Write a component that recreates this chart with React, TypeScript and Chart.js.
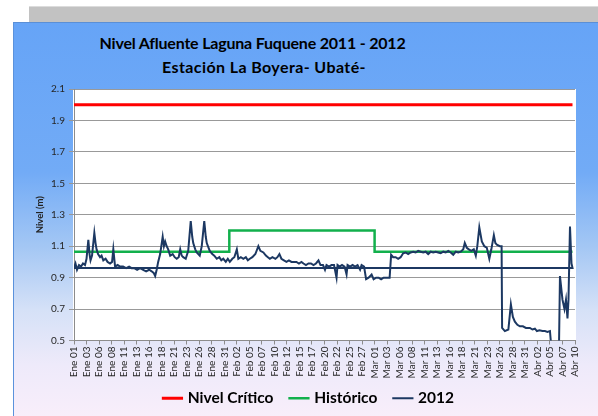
import React, { useEffect, useRef } from 'react';
import { Chart, registerables } from 'chart.js';

Chart.register(...registerables);

// X axis: days since Ene 01 (2012), major unit 2.5 days
const tickLabels = [
  'Ene 01', 'Ene 03', 'Ene 06', 'Ene 08', 'Ene 11', 'Ene 13', 'Ene 16', 'Ene 18', 'Ene 21', 'Ene 23', 'Ene 26', 'Ene 28', 'Ene 31',
  'Feb 02', 'Feb 05', 'Feb 07', 'Feb 10', 'Feb 12', 'Feb 15', 'Feb 17', 'Feb 20', 'Feb 22', 'Feb 25', 'Feb 27',
  'Mar 01', 'Mar 03', 'Mar 06', 'Mar 08', 'Mar 11', 'Mar 13', 'Mar 16', 'Mar 18', 'Mar 21', 'Mar 23', 'Mar 26', 'Mar 28', 'Mar 31',
  'Abr 02', 'Abr 05', 'Abr 07', 'Abr 10',
];
const tickStepDays = 2.5;
const axisMaxDays = 100;
const seriesEndDay = 99.5;

// Nivel Crítico
const nivelCritico = 2.0;

// Histórico (value per month, month start day)
const historicoStartDays = [0, 31, 60, 91];
const historicoValues = [1.065, 1.2, 1.065, 1.065];

// 2012 series (day, level m)
const days2012 = [
  0, 0.3, 0.6, 1.0, 1.4, 1.8, 2.2, 2.5, 2.86, 3.1, 3.3, 3.6, 4.06, 4.3, 4.5, 4.8, 5.2, 5.5, 5.85, 6.3,
  6.7, 7.2, 7.6, 7.85, 8.2, 8.7, 9.2, 9.8, 10.4, 11.0, 11.5, 12.0, 12.6, 13.2, 13.8, 14.4, 15.0, 15.5, 15.9, 16.2,
  16.5, 16.8, 17.2, 17.7, 17.95, 18.2, 18.5, 18.8, 19.2, 19.7, 20.1, 20.5, 20.9, 21.2, 21.5, 21.8, 22.3, 22.8, 23.3, 23.6,
  23.8, 24.2, 24.5, 25.1, 25.5, 26.0, 26.3, 26.5, 27.1, 27.6, 28.0, 28.5, 29.0, 29.4, 29.8, 30.3, 30.7, 31.1, 31.6, 32.0,
  32.5, 32.8, 33.3, 33.8, 34.3, 34.7, 35.1, 35.6, 36.2, 36.8, 37.2, 37.8, 38.3, 38.7, 39.1, 39.6, 40.2, 40.6, 41.0, 41.4,
  41.9, 42.4, 42.9, 43.4, 43.9, 44.4, 44.9, 45.4, 45.8, 46.3, 46.8, 47.3, 47.8, 48.3, 48.8, 49.2, 49.7, 50.1, 50.4, 50.9,
  51.4, 51.9, 52.4, 52.6, 53.0, 53.5, 54.0, 54.4, 54.6, 55.1, 55.6, 56.1, 56.6, 57.1, 57.4, 57.9, 58.3, 58.8, 59.4, 59.8,
  60.3, 60.8, 61.3, 61.8, 62.4, 63.0, 63.3, 63.7, 64.2, 64.7, 65.2, 65.7, 66.2, 66.7, 67.2, 67.7, 68.2, 68.7, 69.2, 69.7,
  70.2, 70.7, 71.2, 71.7, 72.2, 72.7, 73.2, 73.7, 74.2, 74.7, 75.2, 75.7, 76.2, 76.7, 77.2, 77.7, 78.0, 78.4, 78.8, 79.3,
  79.8, 80.2, 80.5, 80.9, 81.4, 81.9, 82.4, 82.9, 83.3, 83.8, 84.1, 84.4, 85.0, 85.35, 85.45, 86.0, 86.7, 87.2, 87.6, 88.0,
  88.5, 89.0, 89.6, 90.2, 91.0, 91.5, 92.0, 92.4, 92.9, 93.5, 94.0, 94.5, 95.0, 95.3, 96.0, 96.8, 97.0, 97.5, 97.9, 98.2,
  98.5, 98.7, 99.0, 99.3, 99.5,
];
const nivel2012 = [
  0.962, 0.99, 0.95, 0.98, 0.97, 0.99, 0.98, 1.02, 1.14, 1.05, 1.01, 1.04, 1.185, 1.12, 1.08, 1.05, 1.03, 1.04, 1.01, 1.02,
  1.0, 0.99, 1.0, 1.08, 0.97, 0.98, 0.97, 0.97, 0.96, 0.97, 0.96, 0.96, 0.95, 0.96, 0.95, 0.94, 0.95, 0.94, 0.93, 0.91,
  0.95, 1.0, 1.05, 1.16, 1.1, 1.13, 1.1, 1.08, 1.04, 1.05, 1.03, 1.02, 1.03, 1.08, 1.04, 1.03, 1.02, 1.07, 1.26, 1.16,
  1.12, 1.08, 1.06, 1.04, 1.1, 1.26, 1.16, 1.12, 1.07, 1.05, 1.04, 1.02, 1.03, 1.01, 1.02, 1.0, 1.02, 1.0, 1.02, 1.03,
  1.08, 1.02, 1.03, 1.02, 1.03, 1.01, 1.02, 1.03, 1.05, 1.1, 1.07, 1.06, 1.04, 1.03, 1.02, 1.03, 1.02, 1.03, 1.05, 1.02,
  1.01, 1.0, 1.01, 1.0, 1.0, 1.0, 0.99, 1.0, 0.99, 0.98, 0.99, 0.99, 0.98, 0.99, 1.01, 0.98, 0.98, 0.95, 0.98, 0.97,
  0.98, 0.98, 0.9, 0.98, 0.97, 0.98, 0.97, 0.92, 0.98, 0.97, 0.98, 0.97, 0.98, 0.95, 0.98, 0.97, 0.89, 0.9, 0.92, 0.89,
  0.9, 0.9, 0.89, 0.9, 0.9, 0.9, 1.045, 1.03, 1.03, 1.02, 1.03, 1.055, 1.06, 1.05, 1.06, 1.065, 1.06, 1.07, 1.065, 1.06,
  1.065, 1.05, 1.065, 1.06, 1.065, 1.06, 1.055, 1.065, 1.06, 1.07, 1.06, 1.045, 1.065, 1.06, 1.065, 1.08, 1.12, 1.09, 1.08, 1.07,
  1.08, 1.04, 1.1, 1.22, 1.13, 1.1, 1.09, 1.02, 1.08, 1.17, 1.12, 1.11, 1.1, 1.1, 0.58, 0.56, 0.57, 0.73, 0.65, 0.62,
  0.6, 0.59, 0.59, 0.58, 0.58, 0.57, 0.575, 0.56, 0.565, 0.56, 0.56, 0.555, 0.56, 0.45, 0.44, 0.45, 0.91, 0.76, 0.7, 0.76,
  0.64, 0.76, 1.225, 0.99, 0.962,
];

// Y axis
const yMin = 0.5;
const yMax = 2.1;
const yStep = 0.2;

const FONT = 'Lato, "Open Sans", "DejaVu Sans", sans-serif';

export default function App() {
  const canvasRef = useRef<HTMLCanvasElement | null>(null);

  useEffect(() => {
    document.body.style.margin = '0';
    const canvas = canvasRef.current;
    if (!canvas) return;

    const criticoPts = [
      { x: 0, y: nivelCritico },
      { x: seriesEndDay, y: nivelCritico },
    ];
    const histPts = historicoStartDays
      .map((d, i) => ({ x: d, y: historicoValues[i] }))
      .concat([{ x: seriesEndDay, y: historicoValues[historicoValues.length - 1] }]);
    const pts2012 = days2012.map((d, i) => ({ x: d, y: nivel2012[i] }));
    // the series wraps back to its first point
    pts2012.push({ x: days2012[0], y: nivel2012[0] });

    const chart = new Chart(canvas, {
      type: 'line',
      data: {
        datasets: [
          {
            label: 'Nivel Crítico',
            data: criticoPts,
            borderColor: '#ff0000',
            backgroundColor: '#ff0000',
            borderWidth: 3,
            pointRadius: 0,
            pointStyle: 'line',
            order: 2,
          },
          {
            label: 'Histórico',
            data: histPts,
            stepped: 'before',
            borderColor: '#12b04c',
            backgroundColor: '#12b04c',
            borderWidth: 2.5,
            pointRadius: 0,
            pointStyle: 'line',
            order: 1,
          },
          {
            label: '2012',
            data: pts2012,
            borderColor: '#1c3862',
            backgroundColor: '#1c3862',
            borderWidth: 2,
            pointRadius: 0,
            pointStyle: 'line',
            order: 0,
          },
        ],
      },
      options: {
        animation: false,
        responsive: false,
        maintainAspectRatio: false,
        layout: { padding: { left: 44, right: 23, top: 89, bottom: 0 } },
        scales: {
          x: {
            type: 'linear',
            min: 0,
            max: axisMaxDays,
            afterFit: (s: any) => {
              s.height = 32;
              // let the rotated labels run below the scale box
              s._computeLabelArea = () => undefined;
            },
            ticks: {
              stepSize: tickStepDays,
              autoSkip: false,
              maxRotation: 90,
              minRotation: 90,
              padding: 2,
              color: '#262626',
              font: { family: FONT, size: 10 },
              callback: (v: any) => tickLabels[Math.round(Number(v) / tickStepDays)] ?? '',
            },
            grid: { drawOnChartArea: false, tickLength: 4, color: '#8c8c8c' },
            border: { color: '#8c8c8c' },
          },
          y: {
            min: yMin,
            max: yMax,
            afterFit: (s: any) => {
              s.width = 30;
            },
            ticks: {
              stepSize: yStep,
              padding: 4,
              color: '#262626',
              font: { family: FONT, size: 10 },
              callback: (v: any) => Number(v).toFixed(1),
            },
            grid: { color: '#999999', tickLength: 5 },
            border: { color: '#8c8c8c' },
            title: {
              display: true,
              text: 'Nivel (m)',
              color: '#222',
              font: { family: FONT, size: 9.5, weight: 'bold' },
              padding: { top: -9.7, bottom: 0 },
            },
          },
        },
        plugins: {
          legend: {
            position: 'bottom',
            labels: {
              usePointStyle: true,
              boxWidth: 15,
              boxHeight: 15,
              padding: 18,
              color: '#000',
              font: { family: FONT, size: 15.5, weight: 'bold' },
              sort: (a: any, b: any) => a.datasetIndex - b.datasetIndex,
            },
          },
          tooltip: { enabled: false },
          title: { display: false },
        },
      },
    } as any);

    return () => chart.destroy();
  }, []);

  const titleStyle: React.CSSProperties = {
    position: 'absolute', textAlign: 'center', fontFamily: FONT, fontWeight: 'bold',
    fontSize: 16, lineHeight: '20px', color: '#000', whiteSpace: 'nowrap',
  };

  return (
    <div style={{ position: 'relative', width: 598, height: 416, overflow: 'hidden', background: '#fff' }}>
      <div
        style={{
          position: 'absolute', left: 29, top: 6, width: 569, height: 17,
          background: '#c2c2c2', borderTop: '1px solid #dcdcdc', boxSizing: 'border-box',
        }}
      />
      <div
        style={{
          position: 'absolute', left: 13, top: 22, width: 585, height: 394, boxSizing: 'border-box',
          borderLeft: '1px solid #5b92dc', borderTop: '1px solid #5a8fd6',
          background: 'linear-gradient(to bottom, #66a4f7 0%, #72abf6 38%, #a4c7f4 57%, #d5e1f7 73%, #eeeafa 87%, #f8eefa 100%)',
        }}
      />
      <div style={{ position: 'absolute', left: 73, top: 89, width: 503, height: 252, background: '#fff' }} />
      <div style={{ ...titleStyle, left: 52, top: 33, width: 401, letterSpacing: '-0.2px' }}>
        Nivel Afluente Laguna Fuquene 2011 - 2012
      </div>
      <div style={{ ...titleStyle, left: 64, top: 57, width: 400, letterSpacing: '0.4px' }}>
        Estación La Boyera- Ubaté-
      </div>
      <canvas ref={canvasRef} width={598} height={416} style={{ position: 'absolute', left: 0, top: 0 }} />
    </div>
  );
}
